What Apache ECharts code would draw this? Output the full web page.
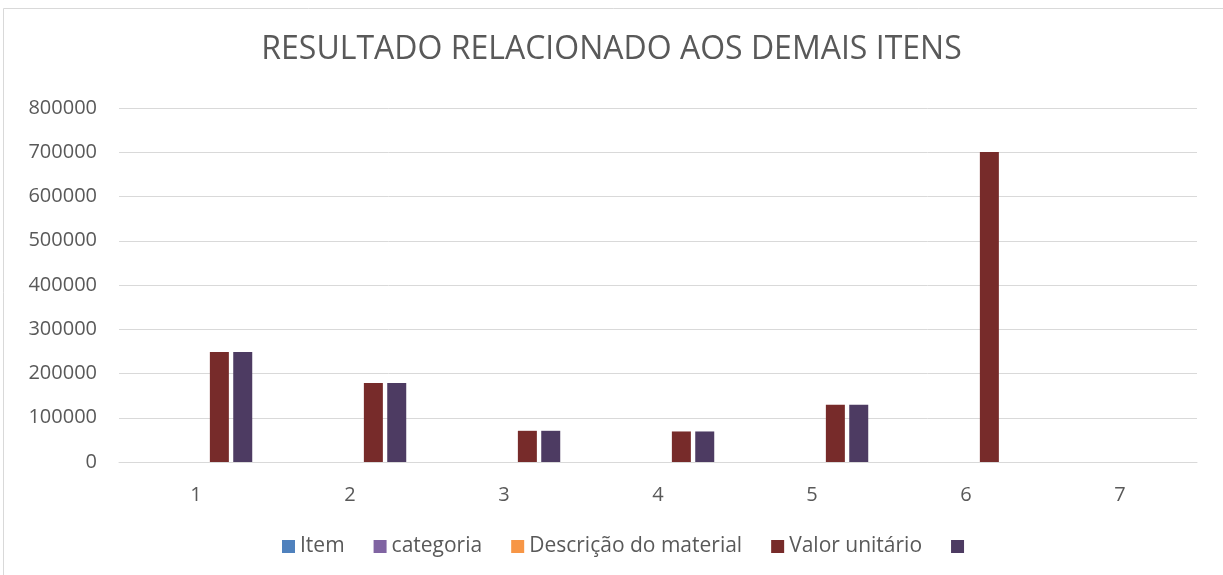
<!DOCTYPE html>
<html>
<head>
<meta charset="utf-8">
<script src="https://cdn.jsdelivr.net/npm/echarts@6/dist/echarts.min.js"></script>
<style>
html,body{margin:0;padding:0;background:#fff;}
#c{width:1223px;height:575px;}
</style>
</head>
<body>
<div id="c"></div>
<script>
const titleText = 'RESULTADO RELACIONADO AOS DEMAIS ITENS';
const categories = ['1', '2', '3', '4', '5', '6', '7'];
const seriesNames = ['Item', 'categoria', 'Descrição do material', 'Valor unitário', ' '];
const itemValues = [0, 0, 0, 0, 0, 0, 0];
const categoriaValues = [0, 0, 0, 0, 0, 0, 0];
const descricaoValues = [0, 0, 0, 0, 0, 0, 0];
const valorUnitarioValues = [248500, 178500, 70500, 69000, 129500, 700500, 0];
const extraValues = [248500, 178500, 70500, 69000, 129500, 0, 0];
const yTicks = [0, 100000, 200000, 300000, 400000, 500000, 600000, 700000, 800000];
const colors = ['#4f81bd', '#8064a2', '#f79646', '#772b2a', '#4d3b62'];

const seriesData = [itemValues, categoriaValues, descricaoValues, valorUnitarioValues, extraValues];

const chart = echarts.init(document.getElementById('c'), null, {renderer: 'canvas'});
const labelFont = '"Open Sans", "Liberation Sans", sans-serif';
chart.setOption({
  animation: false,
  backgroundColor: '#ffffff',
  title: {
    text: titleText,
    left: 'center',
    top: 29,
    textStyle: {
      fontFamily: labelFont,
      fontSize: 32,
      fontWeight: 'normal',
      color: '#595959'
    }
  },
  graphic: [{
    type: 'rect',
    shape: {x: 3.5, y: 8.5, width: 1300, height: 700},
    style: {fill: 'none', stroke: '#d9d9d9', lineWidth: 1},
    silent: true
  }],
  legend: {
    data: seriesNames,
    bottom: 13,
    left: 277,
    itemWidth: 13,
    itemHeight: 13,
    itemGap: 29,
    icon: 'rect',
    textStyle: {fontFamily: labelFont, fontSize: 21, color: '#595959'}
  },
  grid: {left: 119, right: 26, top: 108, bottom: 113, containLabel: false},
  xAxis: {
    type: 'category',
    data: categories,
    axisLine: {lineStyle: {color: '#d9d9d9', width: 1}},
    axisTick: {show: false},
    axisLabel: {fontFamily: labelFont, fontSize: 20, color: '#595959', margin: 23}
  },
  yAxis: {
    type: 'value',
    min: yTicks[0],
    max: yTicks[yTicks.length - 1],
    interval: yTicks[1] - yTicks[0],
    axisLine: {show: false},
    axisTick: {show: false},
    splitLine: {lineStyle: {color: '#d9d9d9', width: 1}},
    axisLabel: {fontFamily: labelFont, fontSize: 20, color: '#595959', margin: 22,
      formatter: function (v) { return String(v); }}
  },
  series: seriesNames.map((name, i) => ({
    name: name,
    type: 'bar',
    data: seriesData[i],
    barWidth: 19,
    barGap: '23%',
    itemStyle: {color: colors[i]}
  }))
});
</script>
</body>
</html>
